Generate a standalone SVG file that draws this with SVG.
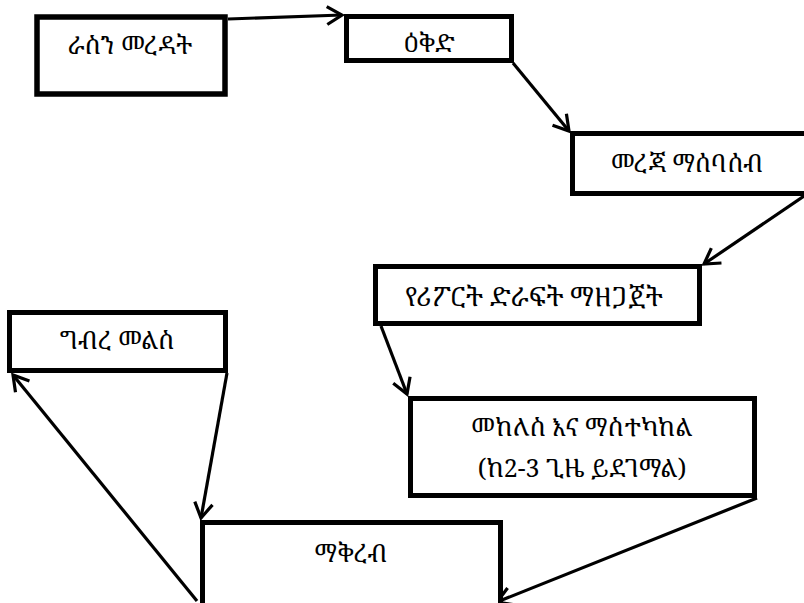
<svg xmlns="http://www.w3.org/2000/svg" width="804" height="603" viewBox="0 0 804 603">
<defs>
<style>
.box{fill:#fff;stroke:#000;stroke-width:5.5}
.lbl{font-family:"Noto Serif Ethiopic","Noto Sans Ethiopic","Abyssinica SIL","Liberation Serif",serif;font-size:25px;fill:#000;text-anchor:middle}
.arr{fill:none;stroke:#000;stroke-width:3.2;marker-end:url(#ah)}
</style>
<marker id="ah" markerUnits="userSpaceOnUse" markerWidth="24" markerHeight="24" viewBox="-18 -12 24 24" refX="0" refY="0" orient="auto">
<path d="M-15,-9 L0,0 L-15,9" fill="none" stroke="#000" stroke-width="3.2"/>
</marker>
</defs>
<rect width="804" height="603" fill="#fff"/>
<g id="connectors">
<line class="arr" x1="228" y1="19" x2="342" y2="15"/>
<line class="arr" x1="513" y1="63" x2="569" y2="131"/>
<line class="arr" x1="804" y1="196" x2="704" y2="264"/>
<line class="arr" x1="381" y1="326" x2="407" y2="394"/>
<line class="arr" x1="757" y1="498" x2="497" y2="602"/>
<line class="arr" x1="227" y1="373" x2="201" y2="518"/>
<line class="arr" x1="197" y1="601" x2="13" y2="375"/>
</g>
<g id="n1"><rect class="box" x="37" y="17" width="188" height="77"/><text class="lbl" x="130" y="54">ራስን መረዳት</text></g>
<g id="n2"><rect class="box" x="346.5" y="16.5" width="165" height="44" style="stroke-width:5"/><text class="lbl" x="429" y="52">ዕቅድ</text></g>
<g id="n3"><rect class="box" x="572.5" y="133.5" width="250" height="60" style="stroke-width:5"/><text class="lbl" x="687" y="172">መረጃ ማሰባሰብ</text></g>
<g id="n4"><rect class="box" x="375.5" y="266.5" width="324" height="57" style="stroke-width:5"/><text class="lbl" x="534" y="306" style="font-size:26.5px">የሪፖርት ድራፍት ማዘጋጀት</text></g>
<g id="n5"><rect class="box" x="410.5" y="398.5" width="344" height="97" style="stroke-width:5"/><text class="lbl" x="582" y="436">መከለስ እና ማስተካከል</text><text class="lbl" x="582" y="477">(ከ2-3 ጊዜ ይደገማል)</text></g>
<g id="n6"><rect class="box" x="202.5" y="522.5" width="298" height="100" style="stroke-width:5"/><text class="lbl" x="351" y="562">ማቅረብ</text></g>
<g id="n7"><rect class="box" x="9.5" y="312.5" width="216" height="58" style="stroke-width:5"/><text class="lbl" x="117" y="349">ግብረ መልስ</text></g>
</svg>
